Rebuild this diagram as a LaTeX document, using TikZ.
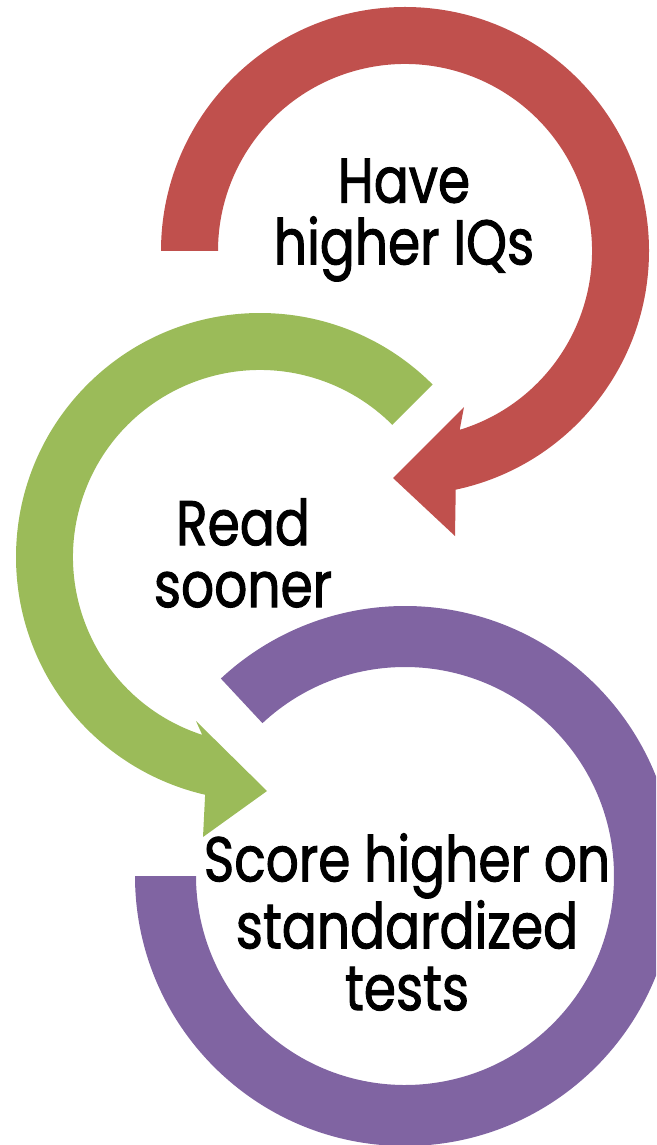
\documentclass[tikz,border=0pt]{standalone}
\usepackage{fontspec}
\setmainfont{Poppins}[FakeStretch=0.82,FakeBold=1.5]
\usetikzlibrary{calc,positioning}
\definecolor{arcred}{HTML}{C0504D}
\definecolor{arcgreen}{HTML}{9BBB59}
\definecolor{arcpurple}{HTML}{8064A2}
\begin{document}
\begin{tikzpicture}[x=0.02cm,y=0.02cm,
  label/.style={align=center,inner sep=0pt,font=\fontsize{36}{35.2}\selectfont}]
\useasboundingbox (0,0) rectangle (656,-1145);
\clip (0,0) rectangle (656,-1145);
\coordinate (rc) at (405,-251);
\coordinate (gc) at (260,-557);
\coordinate (pc) at (405,-876);
% red arrow
\fill[arcred] ($(rc)+(180:244)$) arc[start angle=180,end angle=-78,radius=244]
  -- (455,-536) -- (393,-478) -- (464,-407)
  -- ($(rc)+(-73:187)$) arc[start angle=-73,end angle=180,radius=187] -- cycle;
% green arrow
\fill[arcgreen] ($(gc)+(45:244)$) arc[start angle=45,end angle=257,radius=244]
  -- (203,-837) -- (267,-791) -- (196,-721)
  -- ($(gc)+(252:187)$) arc[start angle=252,end angle=45,radius=187] -- cycle;
% purple ring
\fill[arcpurple] ($(pc)+(180:270)$) arc[start angle=180,end angle=493,radius=270]
  -- ($(pc)+(493:209)$) arc[start angle=493,end angle=180,radius=209] -- cycle;
\node[label] (have) at (404,-220) {Have\\higher IQs};
\node[label] (read) at (243,-553) {Read\\sooner};
\node[label] (score) at (407,-922) {Score higher on\\standardized\\tests};
\end{tikzpicture}
\end{document}
